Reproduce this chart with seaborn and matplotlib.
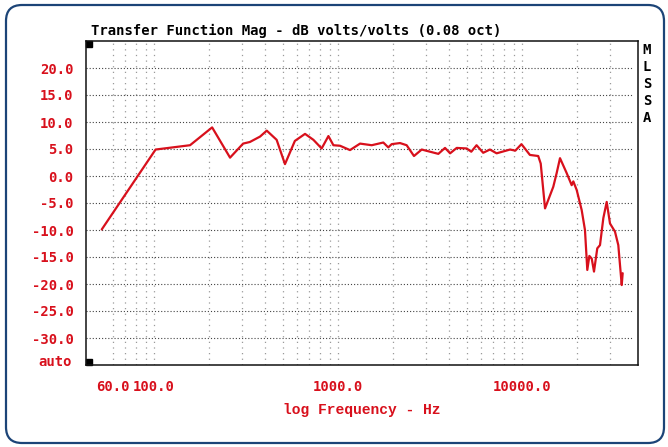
import numpy as np
import pandas as pd
import matplotlib
matplotlib.use("Agg")
import matplotlib.pyplot as plt
from matplotlib.patches import FancyBboxPatch
import seaborn as sns

# Frequency response (Hz, dB)
freq = [52, 102, 157, 207, 259, 305, 332, 377, 410, 464, 515, 583, 662, 735,
        815, 887, 944, 1026, 1162, 1318, 1525, 1763, 1876, 1958, 2173, 2361,
        2588, 2851, 3162, 3510, 3816, 4067, 4418, 5006, 5300, 5663, 6152,
        6693, 7279, 8610, 9200, 9933, 11040, 12250, 12640, 13340, 14790,
        15420, 16090, 17510, 18620, 19010, 19830, 21100, 21990, 22640,
        23230, 23930, 24620, 25650, 26540, 27670, 28860, 30080, 32010,
        33370, 34830, 35250]
mag_db = [-9.9, 4.9, 5.7, 9.0, 3.4, 6.0, 6.3, 7.3, 8.4, 6.7, 2.2, 6.5, 7.8, 6.7,
          5.1, 7.4, 5.7, 5.6, 4.8, 6.0, 5.7, 6.2, 5.3, 5.9, 6.1, 5.7,
          3.7, 4.9, 4.5, 4.1, 5.2, 4.2, 5.2, 5.1, 4.5, 5.7, 4.3,
          4.9, 4.2, 4.9, 4.7, 5.9, 3.9, 3.7, 2.3, -6.0, -2.0,
          0.5, 3.3, 0.5, -1.7, -1.0, -2.6, -6.3, -10.0, -17.4,
          -14.8, -15.3, -17.7, -13.4, -12.8, -7.8, -4.8, -8.8, -10.3,
          -12.8, -20.2, -18.0]

y_ticks = [20, 15, 10, 5, 0, -5, -10, -15, -20, -25, -30]
x_major = [60, 100, 1000, 10000]
x_major_labels = ["60.0", "100.0", "1000.0", "10000.0"]
x_minor = [60, 70, 80, 90, 100, 200, 300, 400, 500, 600, 700, 800, 900, 1000,
           2000, 3000, 4000, 5000, 6000, 7000, 8000, 9000, 10000, 20000, 30000]

df = pd.DataFrame({"freq": freq, "mag": mag_db})

red = "#d8101c"
mono = "DejaVu Sans Mono"

sns.set_style("white")
fig = plt.figure(figsize=(6.68, 4.47), dpi=100)
ax = fig.add_axes([86 / 668, 1 - 365 / 447, 552 / 668, 324 / 447])

# dotted grid like the original instrument display
for f in x_minor:
    ax.axvline(f, color="#9a9a9a", lw=0.9, ls=(0, (1, 3.5)), zorder=0)
for y in y_ticks:
    ax.axhline(y, xmax=0.99, color="#444444", lw=0.8, ls=(0, (1, 1.8)), zorder=0)

sns.lineplot(data=df, x="freq", y="mag", ax=ax, color=red, lw=1.6,
             zorder=3, legend=False)

ax.set_xscale("log")
ax.set_xlim(42.7, 42700)
ax.set_ylim(-35, 25)

ax.set_yticks(y_ticks)
ax.set_yticklabels([f"{v:.1f}" for v in y_ticks], color=red,
                   family=mono, weight="bold", fontsize=10)
ax.set_xticks(x_minor, minor=True)
ax.set_xticks(x_major)
ax.set_xticklabels(x_major_labels, color=red, family=mono,
                   weight="bold", fontsize=10)
ax.xaxis.set_minor_formatter(plt.NullFormatter())
ax.tick_params(axis="y", length=6, width=1, color="#333333", pad=3)
ax.tick_params(axis="x", which="major", length=7, width=1, color="#222222", pad=4)
ax.tick_params(axis="x", which="minor", length=4, width=1, color="#222222")
ax.set_xlabel("log Frequency - Hz", color=red, family="Liberation Mono",
              weight="bold", fontsize=10.5, labelpad=6)
ax.set_ylabel("")

for s in ax.spines.values():
    s.set_color("#111111")
    s.set_linewidth(1.1)

# "auto" label and the little corner markers
ax.text(-0.025, 0.0093, "auto", transform=ax.transAxes, ha="right",
        va="center", color=red, family=mono, weight="bold", fontsize=10)
ax.plot([0.0054, 0.0054], [0.9907, 0.0093], ls="none", marker="s",
        ms=4.5, color="black", transform=ax.transAxes, clip_on=False)

fig.text(91 / 668, 1 - 31 / 447, "Transfer Function Mag - dB volts/volts (0.08 oct)",
         ha="left", va="center", family=mono, weight="bold", fontsize=10,
         color="black")
fig.text(647 / 668, 1 - 84 / 447, "M\nL\nS\nS\nA", ha="center", va="center",
         family=mono, weight="bold", fontsize=10, linespacing=1.25,
         color="black")

# rounded frame around the whole picture (pixel coords)
frame = FancyBboxPatch((6, 4), 658, 438, boxstyle="round,pad=0,rounding_size=16",
                       transform=None, fill=False, edgecolor="#1c4477", lw=1.6)
fig.add_artist(frame)

fig.savefig("out.png", dpi=100)
